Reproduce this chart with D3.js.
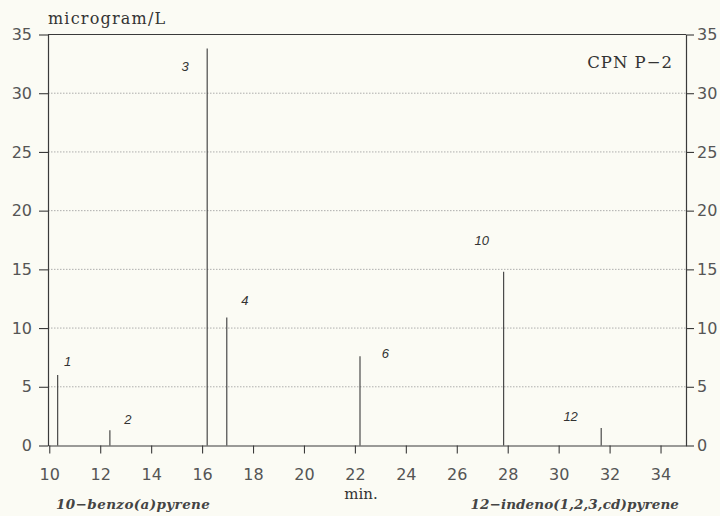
<!DOCTYPE html>
<html><head><meta charset="utf-8">
<script src="https://cdn.jsdelivr.net/npm/d3@7"></script>
<style>body{margin:0;background:#fbfbf4;}svg{display:block;}</style>
</head><body>
<script>
const peakLabels = ["1","2","3","4","6","10","12"];
const peakTimes  = [10.33, 12.38, 16.2, 16.97, 22.2, 27.84, 31.67];
const peakValues = [6.0, 1.3, 33.8, 10.9, 7.6, 14.8, 1.5];
// label anchor points, in data units
const labelTimes  = [10.72, 13.09, 15.33, 17.68, 23.2, 26.98, 30.47];
const labelValues = [6.73, 1.87, 31.93, 11.96, 7.45, 17.07, 2.09];
const xTicks = [10,12,14,16,18,20,22,24,26,28,30,32,34];
const yTicks = [0,5,10,15,20,25,30,35];

const W=720,H=516;
const svg=d3.select("body").append("svg").attr("width",W).attr("height",H);
svg.append("rect").attr("width",W).attr("height",H).attr("fill","#fbfbf4");
const x=d3.scaleLinear().domain([9.95,35]).range([48,686]);
const y=d3.scaleLinear().domain([0,35]).range([445.5,34.5]);
const ink="#3a3a3a";

// grid
svg.append("g").selectAll("line").data(yTicks.filter(d=>d>0&&d<35)).join("line")
  .attr("x1",x.range()[0]).attr("x2",x.range()[1])
  .attr("y1",d=>y(d)).attr("y2",d=>y(d))
  .attr("stroke","#9a9a9a").attr("stroke-width",0.8).attr("stroke-dasharray","1.5,1.5");

// top frame line
svg.append("line").attr("x1",x.range()[0]).attr("x2",x.range()[1]).attr("y1",y(35)).attr("y2",y(35))
  .attr("stroke",ink).attr("stroke-width",1.2);

const fontTick="'DejaVu Sans', 'Liberation Sans', sans-serif";
const ax=svg.append("g").attr("transform",`translate(0,${y(0)})`)
  .call(d3.axisBottom(x).tickValues(xTicks).tickSize(8).tickPadding(15).tickSizeOuter(0));
const ayl=svg.append("g").attr("transform",`translate(${x.range()[0]},0)`)
  .call(d3.axisLeft(y).tickValues(yTicks).tickSize(9).tickPadding(7).tickSizeOuter(0));
const ayr=svg.append("g").attr("transform",`translate(${x.range()[1]},0)`)
  .call(d3.axisRight(y).tickValues(yTicks).tickSize(8).tickPadding(3).tickSizeOuter(0));
[ax,ayl,ayr].forEach(g=>{
  g.selectAll("path").attr("stroke",ink).attr("stroke-width",1.2);
  g.selectAll("line").attr("stroke",ink).attr("stroke-width",1.1);
  g.selectAll("text").attr("fill","#555").style("font-family",fontTick).style("font-size","16px");
});

// peaks
svg.append("g").selectAll("line").data(peakTimes).join("line")
  .attr("x1",d=>x(d)).attr("x2",d=>x(d))
  .attr("y1",y(0)).attr("y2",(d,i)=>y(peakValues[i]))
  .attr("stroke",ink).attr("stroke-width",1.1);

svg.append("g").selectAll("text").data(peakLabels).join("text")
  .attr("x",(d,i)=>x(labelTimes[i])).attr("y",(d,i)=>y(labelValues[i]))
  .attr("text-anchor","middle")
  .style("font-family","'Liberation Sans', Arial, sans-serif").style("font-style","italic").style("font-size","13px")
  .attr("fill","#333").text(d=>d);

const serif="'DejaVu Serif', 'Liberation Serif', serif";
svg.append("text").attr("x",48).attr("y",24).style("font-family",serif).style("font-size","16px")
  .style("letter-spacing","1.2px").attr("fill","#333").text("microgram/L");
svg.append("text").attr("x",673).attr("y",68).attr("text-anchor","end").style("font-family",serif)
  .style("font-size","16.5px").style("letter-spacing","1px").attr("fill","#333").text("CPN P\u22122");
svg.append("text").attr("x",361).attr("y",499).attr("text-anchor","middle").style("font-family",serif)
  .style("font-size","15px").attr("fill","#333").text("min.");
svg.append("text").attr("x",56).attr("y",509).style("font-family",serif).style("font-style","italic")
  .style("font-weight","bold").style("font-size","13.5px").style("letter-spacing","0.4px")
  .attr("fill","#444").text("10\u2212benzo(a)pyrene");
svg.append("text").attr("x",679).attr("y",509).attr("text-anchor","end").style("font-family",serif).style("font-style","italic")
  .style("font-weight","bold").style("font-size","13.5px").style("letter-spacing","0.1px")
  .attr("fill","#444").text("12\u2212indeno(1,2,3,cd)pyrene");
</script>
</body></html>
